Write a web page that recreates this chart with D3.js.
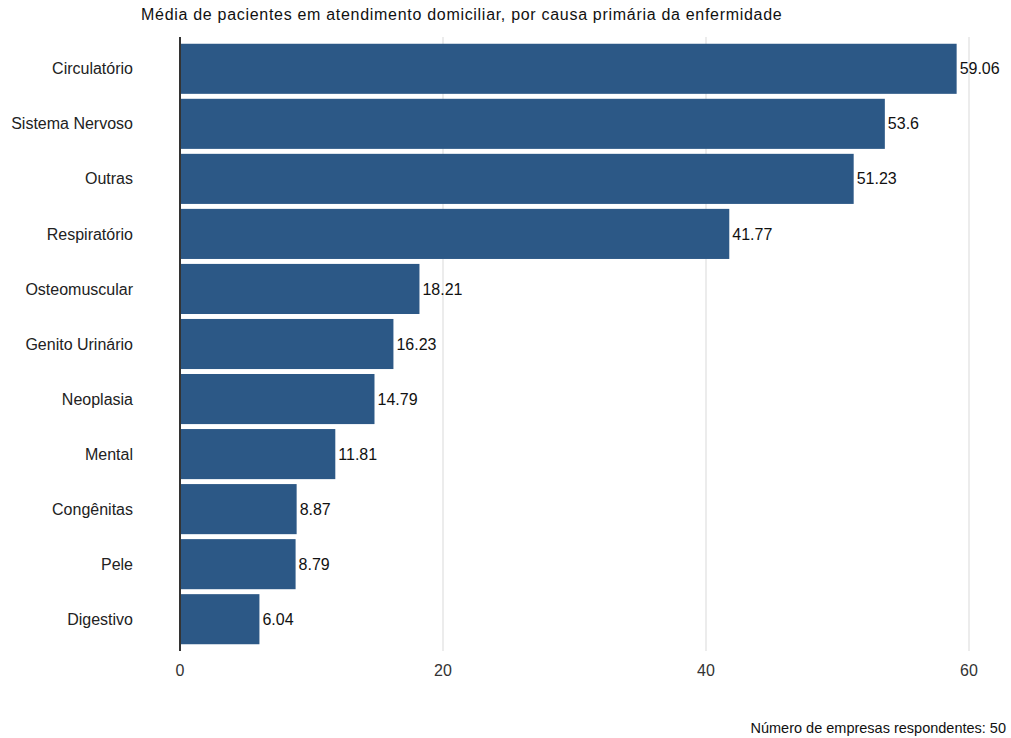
<!DOCTYPE html>
<html>
<head>
<meta charset="utf-8">
<script src="https://cdn.jsdelivr.net/npm/d3@7"></script>
<style>
  body { margin: 0; background: #fff; font-family: "Liberation Sans", Arial, sans-serif; }
</style>
</head>
<body>
<div id="chart"></div>
<script>
// categories and values
var categories = ["Circulatório", "Sistema Nervoso", "Outras", "Respiratório", "Osteomuscular",
  "Genito Urinário", "Neoplasia", "Mental", "Congênitas", "Pele", "Digestivo"];
var values = [59.06, 53.6, 51.23, 41.77, 18.21, 16.23, 14.79, 11.81, 8.87, 8.79, 6.04];
var valueLabels = ["59.06", "53.6", "51.23", "41.77", "18.21", "16.23", "14.79", "11.81", "8.87", "8.79", "6.04"];
var xTicks = [0, 20, 40, 60];

var width = 1011, height = 738;
var margin = {top: 41, left: 180, bottom: 91, right: 42};

var svg = d3.select("#chart").append("svg")
  .attr("width", width)
  .attr("height", height);

var x = d3.scaleLinear()
  .domain([0, 60])
  .range([margin.left, 969]);

var y = d3.scaleBand()
  .domain(categories)
  .range([margin.top, height - margin.bottom])
  .paddingInner(0.09)
  .paddingOuter(0.05);

//gridlines
svg.selectAll(".grid")
  .data(xTicks.filter(function(d) { return d > 0; }))
  .enter().append("line")
  .attr("x1", function(d) { return x(d); })
  .attr("x2", function(d) { return x(d); })
  .attr("y1", 37)
  .attr("y2", 651)
  .style("stroke", "#d9d9d9")
  .style("stroke-width", 1);

//bars
svg.selectAll(".bar")
  .data(values)
  .enter().append("rect")
  .attr("x", x(0))
  .attr("y", function(d, i) { return y(categories[i]); })
  .attr("width", function(d) { return x(d) - x(0); })
  .attr("height", y.bandwidth())
  .style("fill", "#2c5886");

//value labels
svg.selectAll(".val")
  .data(values)
  .enter().append("text")
  .attr("x", function(d) { return x(d) + 3; })
  .attr("y", function(d, i) { return y(categories[i]) + y.bandwidth() / 2; })
  .attr("dy", ".35em")
  .style("font-size", "16px")
  .style("fill", "#111")
  .text(function(d, i) { return valueLabels[i]; });

//y axis line
svg.append("line")
  .attr("x1", x(0)).attr("x2", x(0))
  .attr("y1", 37).attr("y2", 651)
  .style("stroke", "#333")
  .style("stroke-width", 2);

//category labels
svg.selectAll(".cat")
  .data(categories)
  .enter().append("text")
  .attr("x", 133)
  .attr("y", function(d) { return y(d) + y.bandwidth() / 2; })
  .attr("dy", ".35em")
  .style("text-anchor", "end")
  .style("font-size", "16px")
  .style("fill", "#222")
  .text(function(d) { return d; });

//x tick labels
svg.selectAll(".tick")
  .data(xTicks)
  .enter().append("text")
  .attr("x", function(d) { return x(d); })
  .attr("y", 676)
  .style("text-anchor", "middle")
  .style("font-size", "16px")
  .style("fill", "#333")
  .text(function(d) { return d; });

//title
svg.append("text")
  .attr("x", 141)
  .attr("y", 20)
  .style("font-size", "16px")
  .style("letter-spacing", "0.7px")
  .style("fill", "#111")
  .text("Média de pacientes em atendimento domiciliar, por causa primária da enfermidade");

//footnote
svg.append("text")
  .attr("x", 1006)
  .attr("y", 733)
  .style("text-anchor", "end")
  .style("font-size", "14.5px")
  .style("fill", "#111")
  .text("Número de empresas respondentes: 50");
</script>
</body>
</html>
